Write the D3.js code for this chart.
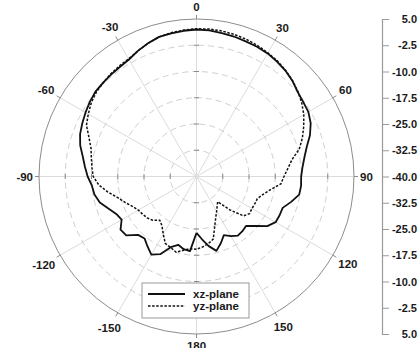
<!DOCTYPE html>
<html>
<head>
<meta charset="utf-8">
<script src="https://cdn.jsdelivr.net/npm/d3@7"></script>
<style>
  body { margin: 0; background: #fff; }
  svg { display: block; }
  text { font-family: "Liberation Sans", Arial, sans-serif; font-weight: bold; fill: #1a1a1a; }
</style>
</head>
<body>
<svg id="chart" width="419" height="348"></svg>
<script>
// Measurement angles (degrees, 0 = boresight, clockwise positive)
const angles = d3.range(-180, 181, 5);

// Normalised gain (dB) per angle
const xzPlane = [
  -23.9, -18.6, -18.9, -19.8, -18.5, -15.5, -14.2, -15.6, -16.9, -16.4,
  -13.8, -13.5, -15.3, -14.7, -13.2, -11.4, -10.4, -10.0, -8.9, -8.0,
  -7.0, -5.6, -4.6, -4.0, -3.4, -2.8, -2.3, -2.2, -2.0, -1.8,
  -1.4, -0.4, 0.5, 1.3, 1.5, 1.8, 2.0, 1.9, 1.6, 1.4,
  1.1, 0.9, 0.6, 0.1, -0.5, -1.3, -2.3, -2.8, -3.1, -4.0,
  -5.5, -7.4, -8.7, -9.6, -10.1, -10.0, -10.2, -12.0, -13.8, -13.8,
  -13.9, -15.3, -18.0, -20.0, -19.6, -19.4, -20.3, -21.5, -19.7, -18.0,
  -19.8, -22.0, -23.9
];
const yzPlane = [
  -19.2, -19.3, -18.6, -17.6, -18.4, -18.9, -21.0, -22.8, -23.7, -22.3,
  -21.6, -21.2, -20.8, -19.8, -18.3, -16.7, -14.3, -12.0, -10.5, -10.0,
  -9.5, -8.8, -7.3, -5.3, -4.3, -3.3, -2.6, -2.2, -1.8, -1.5,
  -1.2, -0.4, 0.5, 1.3, 1.7, 2.0, 2.2, 2.3, 2.2, 2.0,
  1.7, 1.3, 0.8, 0.3, -0.4, -1.2, -2.2, -3.3, -4.6, -6.2,
  -7.8, -9.6, -12.3, -13.8, -15.0, -15.8, -18.5, -20.3, -21.5, -21.6,
  -21.7, -21.5, -22.5, -26.5, -30.6, -29.7, -28.5, -27.0, -24.8, -21.5,
  -20.5, -19.8, -19.2
];

const seriesNames = ["xz-plane", "yz-plane"];
const angleLabels = [0, 30, 60, 90, 120, 150, 180, -150, -120, -90, -60, -30];
const ringValues = [-32.5, -25.0, -17.5, -10.0, -2.5];
// Right-hand scale: signed offset from the centre (top half positive) and its dB label
const radialTicks = [45, 37.5, 30, 22.5, 15, 7.5, 0, -7.5, -15, -22.5, -30, -37.5, -45];
const radialTickLabels = ["5.0", "-2.5", "-10.0", "-17.5", "-25.0", "-32.5", "-40.0",
                          "-32.5", "-25.0", "-17.5", "-10.0", "-2.5", "5.0"];

const cx = 196.5, cy = 176.5, R = 157.5;
const rMin = -40, rMax = 5;
const rScale = d3.scaleLinear().domain([rMin, rMax]).range([0, R]);
const rad = d => d * Math.PI / 180;

const svg = d3.select("#chart");
const g = svg.append("g").attr("transform", `translate(${cx},${cy})`);

// spokes every 30 degrees
g.append("g").selectAll("line").data(angleLabels).join("line")
  .attr("x1", 0).attr("y1", 0)
  .attr("x2", d => R * Math.sin(rad(d)))
  .attr("y2", d => -R * Math.cos(rad(d)))
  .attr("stroke", "#dcdcdc").attr("stroke-width", 1);

// dashed grid rings
g.append("g").selectAll("circle").data(ringValues).join("circle")
  .attr("r", d => rScale(d))
  .attr("fill", "none")
  .attr("stroke", "#cfcfcf").attr("stroke-width", 1)
  .attr("stroke-dasharray", "6,4");

// small ticks across the four main axes at each ring
const axisDirs = [0, 90, 180, -90];
const tickData = [];
axisDirs.forEach(a => ringValues.forEach(v => tickData.push({a, v})));
g.append("g").selectAll("line").data(tickData).join("line")
  .attr("x1", d => rScale(d.v) * Math.sin(rad(d.a)) - 2.5 * Math.cos(rad(d.a)))
  .attr("y1", d => -rScale(d.v) * Math.cos(rad(d.a)) - 2.5 * Math.sin(rad(d.a)))
  .attr("x2", d => rScale(d.v) * Math.sin(rad(d.a)) + 2.5 * Math.cos(rad(d.a)))
  .attr("y2", d => -rScale(d.v) * Math.cos(rad(d.a)) + 2.5 * Math.sin(rad(d.a)))
  .attr("stroke", "#8a8a8a").attr("stroke-width", 1);

// outer boundary
g.append("circle").attr("r", R)
  .attr("fill", "none").attr("stroke", "#8c8c8c").attr("stroke-width", 1);

// outward ticks at the angle labels
g.append("g").selectAll("line").data(angleLabels).join("line")
  .attr("x1", d => R * Math.sin(rad(d)))
  .attr("y1", d => -R * Math.cos(rad(d)))
  .attr("x2", d => (R + 4) * Math.sin(rad(d)))
  .attr("y2", d => -(R + 4) * Math.cos(rad(d)))
  .attr("stroke", "#8c8c8c").attr("stroke-width", 1);

// angle labels
const lbl = g.append("g").selectAll("text").data(angleLabels).join("text")
  .attr("font-size", "11.5px")
  .attr("text-anchor", "middle")
  .attr("dominant-baseline", "central")
  .text(d => d);
lbl.each(function(d) {
  const w = this.getComputedTextLength();
  const s = Math.abs(Math.sin(rad(d))), c = Math.abs(Math.cos(rad(d)));
  const rr = R + 6 + (w / 2) * s + 6 * c;
  d3.select(this)
    .attr("x", rr * Math.sin(rad(d)))
    .attr("y", -rr * Math.cos(rad(d)));
});

// pattern traces
const line = d3.lineRadial()
  .angle(d => rad(d[0]))
  .radius(d => rScale(d[1]));

const seriesData = [
  { name: seriesNames[0], values: angles.map((a, i) => [a, xzPlane[i]]), dash: null, width: 1.8 },
  { name: seriesNames[1], values: angles.map((a, i) => [a, yzPlane[i]]), dash: "2.5,1.6", width: 1.5 }
];

g.append("g").selectAll("path").data(seriesData).join("path")
  .attr("d", d => line(d.values))
  .attr("fill", "none")
  .attr("stroke", "#111")
  .attr("stroke-width", d => d.width)
  .attr("stroke-dasharray", d => d.dash)
  .attr("stroke-linejoin", "round");

// radial scale on the right
const yAxisScale = d3.scaleLinear().domain([45, -45]).range([cy - R, cy + R]);
const axisG = svg.append("g").attr("transform", "translate(382,0)")
  .call(d3.axisRight(yAxisScale)
    .tickValues(radialTicks)
    .tickSize(7)
    .tickFormat((u, i) => radialTickLabels[i]));
axisG.select(".domain").attr("stroke", "#999").attr("stroke-width", 1.2);
axisG.selectAll(".tick line").attr("stroke", "#999");
axisG.selectAll(".tick text")
  .attr("x", 35)
  .attr("text-anchor", "end")
  .attr("font-size", "11px")
  .attr("fill", "#1a1a1a");

// legend
const leg = svg.append("g").attr("transform", "translate(142,283)");
leg.append("rect").attr("width", 107).attr("height", 35)
  .attr("fill", "#fff").attr("stroke", "#999").attr("stroke-width", 1);
const items = leg.selectAll("g.item").data(seriesData).join("g")
  .attr("class", "item")
  .attr("transform", (d, i) => `translate(0,${11 + i * 12})`);
items.append("line")
  .attr("x1", 6).attr("x2", 43).attr("y1", 0).attr("y2", 0)
  .attr("stroke", "#111")
  .attr("stroke-width", d => d.width)
  .attr("stroke-dasharray", d => d.dash);
items.append("text")
  .attr("x", 51).attr("y", 0)
  .attr("dominant-baseline", "central")
  .attr("font-size", "11.5px")
  .text(d => d.name);
</script>
</body>
</html>
